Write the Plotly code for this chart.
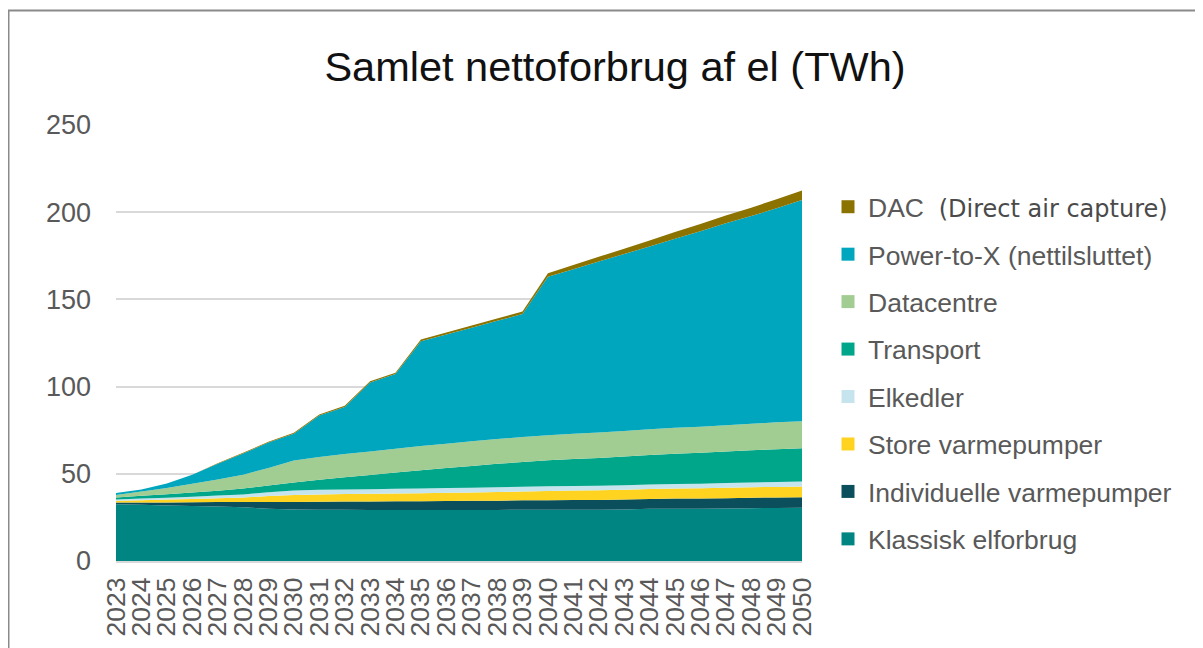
import plotly.graph_objects as go

years = list(range(2023, 2051))
year_labels = [str(y) for y in years]

klassisk = [32.5, 32.2, 31.8, 31.5, 31.2, 30.8, 30.0, 29.5, 29.4, 29.4, 29.3, 29.3, 29.3, 29.3,
            29.3, 29.3, 29.4, 29.4, 29.4, 29.4, 29.5, 30.0, 30.0, 30.0, 30.1, 30.3, 30.4, 30.5]
individuelle = [1.0, 1.4, 1.8, 2.2, 2.6, 3.0, 3.8, 4.4, 4.6, 4.7, 4.8, 4.9, 5.0, 5.1,
                5.2, 5.3, 5.4, 5.5, 5.6, 5.6, 5.7, 5.6, 5.8, 5.8, 5.9, 6.0, 6.0, 6.1]
store_vp = [1.0, 1.3, 1.6, 1.9, 2.2, 2.6, 3.4, 4.0, 4.2, 4.3, 4.4, 4.5, 4.6, 4.7,
            4.8, 5.0, 5.1, 5.3, 5.4, 5.5, 5.6, 5.7, 5.8, 5.9, 6.0, 6.0, 6.1, 6.1]
elkedler = [0.7, 0.9, 1.1, 1.3, 1.5, 1.8, 2.2, 2.5, 2.6, 2.6, 2.6, 2.7, 2.7, 2.7,
            2.7, 2.7, 2.7, 2.6, 2.6, 2.6, 2.6, 2.6, 2.6, 2.6, 2.7, 2.7, 2.8, 2.9]
transport = [1.2, 1.6, 2.0, 2.4, 2.8, 3.3, 3.9, 4.6, 5.8, 7.0, 8.2, 9.3, 10.4, 11.5,
             12.5, 13.4, 14.2, 14.9, 15.5, 16.0, 16.5, 16.9, 17.3, 17.7, 18.1, 18.5, 18.8, 19.1]
datacentre = [1.4, 2.4, 3.6, 5.0, 6.5, 8.0, 10.0, 12.6, 13.0, 13.3, 13.5, 13.7, 13.9, 14.0,
              14.1, 14.2, 14.3, 14.4, 14.5, 14.6, 14.7, 14.8, 14.9, 15.0, 15.1, 15.2, 15.4, 15.5]
ptx = [1.2, 1.2, 2.6, 5.2, 8.9, 12.1, 14.6, 15.3, 23.8, 27.0, 39.5, 42.8, 60.1, 62.6,
       65.2, 67.8, 70.5, 90.9, 94.3, 98.0, 101.4, 104.8, 108.4, 112.1, 115.7, 119.1, 122.7, 126.8]
dac = [0, 0, 0, 0, 0.3, 0.4, 0.5, 0.6, 0.6, 0.7, 0.7, 0.8, 1.0, 1.1,
       1.2, 1.3, 1.4, 2.0, 2.4, 2.7, 3.1, 3.4, 3.8, 4.1, 4.5, 4.8, 5.2, 5.5]

series = [
    ("Klassisk elforbrug", klassisk, "#008583"),
    ("Individuelle varmepumper", individuelle, "#0B4F5C"),
    ("Store varmepumper", store_vp, "#FFD320"),
    ("Elkedler", elkedler, "#C5E4EE"),
    ("Transport", transport, "#00A68A"),
    ("Datacentre", datacentre, "#A1CD92"),
    ("Power-to-X (nettilsluttet)", ptx, "#00A6BE"),
    ("DAC", dac, "#8C7300"),
]

legend_names = {
    "DAC": 'DAC  <span style="font-family:\'DejaVu Sans\';font-size:24px;color:#4a4a4a">(Direct air capture)</span>',
}

fig = go.Figure()
for name, vals, col in series:
    fig.add_trace(go.Scatter(
        x=years, y=vals, name=name, stackgroup="one", mode="none",
        fillcolor=col, showlegend=False, hoverinfo="skip",
    ))

# legend entries (square markers), top to bottom
for name, vals, col in reversed(series):
    fig.add_trace(go.Scatter(
        x=[None], y=[None], mode="markers",
        marker=dict(symbol="square", size=13, color=col),
        name=legend_names.get(name, name), legendgroup=name, showlegend=True,
    ))

# the page body adds an 8px offset; figure coordinates below are screen - 8
OFF = 8
W, H = 1203, 648
ml, mr, mt, mb = 116 - OFF, W - (802 - OFF), 125 - OFF, H - (561 - OFF)
pw, ph = W - ml - mr, H - mt - mb

def px_x(p):
    return (p - OFF - ml) / pw

def px_y(p):
    return (H - mb - (p - OFF)) / ph

fig.add_shape(type="rect", xref="paper", yref="paper",
              x0=px_x(8.5), x1=px_x(1260), y0=px_y(10.5), y1=px_y(700),
              line=dict(color="#8a8a8a", width=2), fillcolor="rgba(0,0,0,0)", layer="below")

fig.update_layout(
    width=W, height=H,
    margin=dict(l=ml, r=mr, t=mt, b=mb, autoexpand=False),
    paper_bgcolor="white", plot_bgcolor="white",
    font=dict(family="Liberation Sans, Arial, sans-serif", color="#595959"),
    title=dict(text="Samlet nettoforbrug af el (TWh)", x=(615 - OFF) / W, xanchor="center",
               y=1 - (66 - OFF) / H, yanchor="middle",
               font=dict(size=41.5, color="#111111", family="Liberation Sans, Arial, sans-serif")),
    showlegend=True,
    legend=dict(x=px_x(828), xanchor="left", y=px_y(183), yanchor="top",
                traceorder="grouped", tracegroupgap=10,
                font=dict(size=26.5, color="#595959"), bgcolor="rgba(0,0,0,0)",
                itemclick=False, itemdoubleclick=False),
    xaxis=dict(range=[2023, 2050], tickmode="array", tickvals=years, ticktext=year_labels,
               tickangle=-90, tickfont=dict(size=26.5, color="#595959"),
               showgrid=False, zeroline=False, showline=True, linecolor="#D9D9D9", linewidth=2,
               ticks="", ticklabelstandoff=4, fixedrange=True),
    yaxis=dict(range=[0, 250], tick0=0, dtick=50, tickfont=dict(size=27, color="#595959"),
               showgrid=True, gridcolor="#D9D9D9", gridwidth=2, zeroline=False,
               showline=False, ticks="", ticklabelstandoff=24, fixedrange=True),
)

fig.write_html("out.html")
